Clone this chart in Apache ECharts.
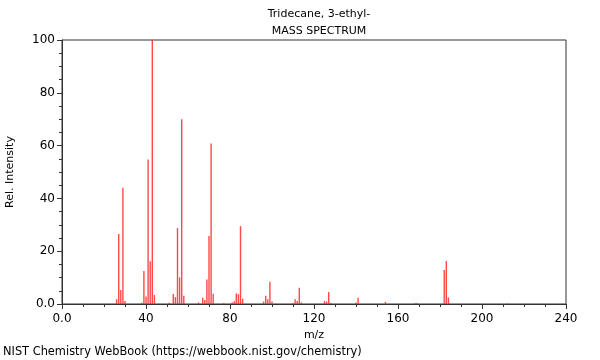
<!DOCTYPE html>
<html><head><meta charset="utf-8">
<script src="https://cdn.jsdelivr.net/npm/echarts@6/dist/echarts.min.js"></script>
<style>html,body{margin:0;padding:0;background:#fff}#c{width:600px;height:360px}</style>
</head><body><div id="c"></div>
<script>
const mz = [26,27,28,29,30,38,39,40,41,42,43,44,51,53,54,55,56,57,58,65,67,68,69,70,71,72,77,81,82,83,84,85,86,96,97,98,99,100,110,111,112,113,114,125,126,127,128,140,141,154,168,169,182,183,184,212];
const intensity = [1.8,26.5,5.3,44,1.1,0.5,12.5,2.8,54.7,16.2,100,3.4,0.5,3.8,2.6,28.8,10.1,70,3.1,0.6,2.4,1.5,9.3,25.8,60.8,3.9,0.3,0.6,1,4,3.7,29.5,2,0.9,3.1,1.8,8.4,0.9,0.3,1.8,1.1,6.2,0.6,1.1,0.9,4.5,0.4,0.6,2.4,0.8,0.4,0.4,12.9,16.3,2.5,0.2];
const xTicks = [0,40,80,120,160,200,240];
const yTicks = [0,20,40,60,80,100];
const titleLines = ['Tridecane, 3-ethyl-','MASS SPECTRUM'];

const chart = echarts.init(document.getElementById('c'));
const fmt = v => v === 0 ? '0.0' : String(v);
const font = 'DejaVu Sans';
chart.setOption({
  animation:false,
  title:{text:titleLines.join('\n'), left:314, textAlign:'center', top:1,
    textStyle:{fontFamily:font,fontSize:11,fontWeight:'normal',color:'#000',lineHeight:17}},
  grid:{left:62,right:34,top:40,bottom:56,show:true,borderColor:'#333',borderWidth:1,
    containLabel:false,outerBoundsMode:'none'},
  xAxis:{type:'value',min:xTicks[0],max:xTicks[xTicks.length-1],interval:40,
    name:'m/z',nameLocation:'middle',nameGap:24,
    nameTextStyle:{fontFamily:font,fontSize:11,color:'#000'},
    axisLine:{lineStyle:{color:'#333'}},
    axisTick:{length:5,lineStyle:{color:'#333'}},
    minorTick:{show:true,splitNumber:4,length:3,lineStyle:{color:'#333'}},
    splitLine:{show:false},
    axisLabel:{formatter:fmt,fontFamily:font,fontSize:12,color:'#000',margin:9}},
  yAxis:{type:'value',min:yTicks[0],max:yTicks[yTicks.length-1],interval:20,
    name:'Rel. Intensity',nameLocation:'middle',nameGap:46,
    nameTextStyle:{fontFamily:font,fontSize:11,color:'#000'},
    axisLine:{show:true,lineStyle:{color:'#333'}},
    axisTick:{show:true,length:5,lineStyle:{color:'#333'}},
    minorTick:{show:true,splitNumber:4,length:3,lineStyle:{color:'#333'}},
    splitLine:{show:false},
    axisLabel:{formatter:fmt,fontFamily:font,fontSize:12,color:'#000',margin:7}},
  graphic:[{type:'text',left:3,top:347,style:{text:'NIST Chemistry WebBook (https://webbook.nist.gov/chemistry)',
    fontFamily:font,fontSize:11.4,fill:'#000'}}],
  series:[{type:'bar',barWidth:1.4,data:mz.map((m,i)=>[m,intensity[i]]),
    itemStyle:{color:'rgba(255,40,40,0.85)'},silent:true}]
});
</script></body></html>
